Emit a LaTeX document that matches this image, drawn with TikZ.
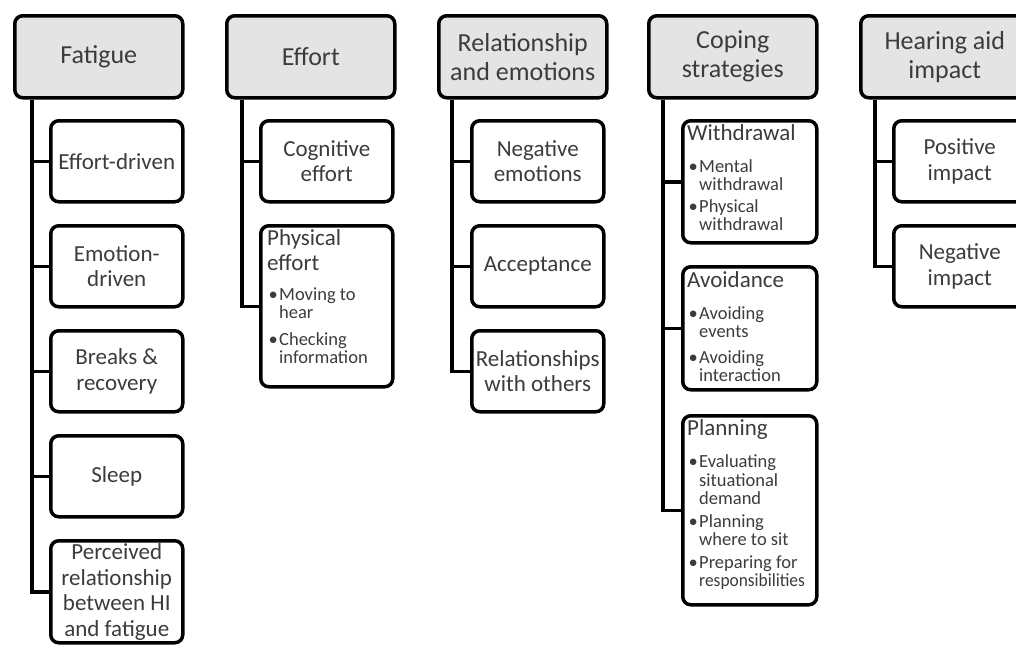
\documentclass[tikz,border=0pt]{standalone}
\usepackage{fontspec}
\setmainfont{Carlito}
\definecolor{hdfill}{RGB}{228,228,228}
\definecolor{txt}{RGB}{60,60,60}
\newcommand\blt[2][9pt]{\par\vspace{#1}\hangindent=12pt\hangafter=1\noindent\hspace*{1.5pt}\makebox[10.5pt][l]{\textbullet}#2\par}
\tikzset{
  box/.style={draw=black, line width=3.5pt, rounded corners=8pt, anchor=north west, text=txt, align=center, inner sep=0pt},
  hd/.style={box, fill=hdfill, minimum width=168pt, minimum height=82pt, font=\fontsize{26}{29}\selectfont},
  ch/.style={box, fill=white, minimum width=132pt, font=\fontsize{23}{25.5}\selectfont},
  inner/.style={anchor=base west, inner sep=0pt, text=txt},
  conn/.style={draw=black, line width=3.5pt}
}
\begin{document}
\begin{tikzpicture}[x=1pt,y=-1pt]
\useasboundingbox (0,0) rectangle (1016,646);
\clip (0,0) rectangle (1016,646);
% column 1
\node[hd] (h1) at (13,14) {Fatigue};
\node[ch, minimum height=81pt] (c11) at (49,119) {Effort-driven};
\node[ch, minimum height=81pt] (c12) at (49,224) {Emotion-\\driven};
\node[ch, minimum height=81pt] (c13) at (49,329) {Breaks \&\\recovery};
\node[ch, minimum height=81pt] (c14) at (49,434) {Sleep};
\node[ch, minimum height=102pt] (c15) at (49,539) {Perceived\\relationship\\between HI\\and fatigue};
\foreach \c in {c11,c12,c13,c14,c15} \draw[conn] ([xshift=19pt]h1.south west) |- (\c.west);
% column 2
\node[hd] (h2) at (225,14) {Effort};
\node[ch, minimum height=81pt] (c21) at (259,119) {Cognitive\\effort};
\node[ch, minimum height=161pt] (c22) at (259,224) {};
\node[inner] (t22) at (267,245) {\begin{minipage}[t]{125pt}\raggedright
\fontsize{23}{25}\selectfont Physical\\effort\par
\fontsize{18.5}{18}\selectfont
\blt[12pt]{Moving to\newline hear}
\blt[9pt]{Checking\newline information}
\end{minipage}};
\foreach \c in {c21,c22} \draw[conn] ([xshift=17pt]h2.south west) |- (\c.west);
% column 3
\node[hd] (h3) at (437,14) {Relationship\\and emotions};
\node[ch, minimum height=81pt] (c31) at (470,119) {Negative\\emotions};
\node[ch, minimum height=81pt] (c32) at (470,224) {Acceptance};
\node[ch, minimum height=81pt] (c33) at (470,329) {Relationships\\with others};
\foreach \c in {c31,c32,c33} \draw[conn] ([xshift=15pt]h3.south west) |- (\c.west);
% column 4
\node[hd] (h4) at (647,14) {Coping\\strategies};
\node[ch, minimum height=122pt, minimum width=134pt] (c41) at (681,119) {};
\node[ch, minimum height=123pt, minimum width=134pt] (c42) at (681,265) {};
\node[ch, minimum height=189pt, minimum width=134pt] (c43) at (681,414) {};
\node[inner] (t41) at (687,140) {\begin{minipage}[t]{128pt}\raggedright
\fontsize{23}{25}\selectfont Withdrawal\par
\fontsize{18.5}{18}\selectfont
\blt[14pt]{Mental\newline withdrawal}
\blt[4pt]{Physical\newline withdrawal}
\end{minipage}};
\node[inner] (t42) at (687,287) {\begin{minipage}[t]{128pt}\raggedright
\fontsize{23}{25}\selectfont Avoidance\par
\fontsize{18.5}{18}\selectfont
\blt[14pt]{Avoiding\newline events}
\blt[8pt]{Avoiding\newline interaction}
\end{minipage}};
\node[inner] (t43) at (687,435) {\begin{minipage}[t]{128pt}\raggedright
\fontsize{23}{25}\selectfont Planning\par
\fontsize{18.5}{18.5}\selectfont
\blt[14pt]{Evaluating\newline situational\newline demand}
\blt[4pt]{Planning\newline where to sit}
\blt[4pt]{Preparing for\newline \scalebox{0.94}[1]{responsibilities}}
\end{minipage}};
\foreach \c in {c41,c42,c43} \draw[conn] ([xshift=16pt]h4.south west) |- (\c.west);
% column 5
\node[hd] (h5) at (859,14) {Hearing aid\\impact};
\node[ch, minimum height=81pt] (c51) at (892,119) {Positive\\impact};
\node[ch, minimum height=81pt] (c52) at (892,224) {Negative\\impact};
\foreach \c in {c51,c52} \draw[conn] ([xshift=16pt]h5.south west) |- (\c.west);
\end{tikzpicture}
\end{document}
